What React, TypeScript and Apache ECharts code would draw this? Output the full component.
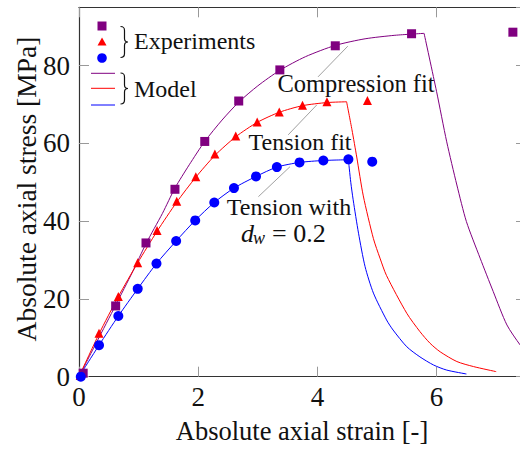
import React, { useEffect, useRef } from "react";
import * as echarts from "echarts";

// Experiments (markers)
const compressionExp: [number, number][] = [
  [0.07, 0.9], [0.615, 18.2], [1.124, 34.4], [1.61, 48.2], [2.11, 60.5], [2.68, 70.9],
  [3.37, 78.9], [4.3, 85.1], [5.58, 88.2], [7.28, 88.6],
];
const tensionExp: [number, number][] = [
  [0.02, 0.3], [0.336, 11.2], [0.66, 20.6], [0.985, 29.3], [1.31, 37.6], [1.64, 45.1],
  [1.96, 51.4], [2.28, 57.3], [2.63, 61.9], [2.99, 65.5], [3.36, 68.1], [3.75, 69.8],
  [4.16, 70.7], [4.84, 71.0],
];
const tensionDwExp: [number, number][] = [
  [0.03, 0], [0.336, 8.1], [0.66, 15.6], [0.985, 22.6], [1.3, 29.1], [1.63, 34.9],
  [1.95, 40.2], [2.27, 44.8], [2.6, 48.5], [2.97, 51.5], [3.32, 53.9], [3.7, 55.1],
  [4.1, 55.6], [4.52, 55.9], [4.92, 55.3],
];

// Model curves: loading branch and softening branch
const compressionRise: [number, number][] = [
  [0, 0], [0.3, 9], [0.615, 18.4], [0.9, 27], [1.124, 34.2], [1.4, 42], [1.61, 48.5],
  [1.85, 54.5], [2.11, 60.5], [2.4, 66], [2.68, 70.6], [3.0, 74.8], [3.37, 78.8],
  [3.8, 82.3], [4.3, 85.2], [4.8, 86.9], [5.3, 87.8], [5.79, 88.3],
];
const compressionFall: [number, number][] = [
  [5.79, 88.3], [6.0, 73.3], [6.17, 60.4], [6.34, 49.3], [6.5, 39.9], [6.73, 30.5],
  [6.95, 21.9], [7.18, 13.3], [7.4, 8.2], [7.5, 6.5],
];
const tensionRise: [number, number][] = [
  [0, 0], [0.336, 11], [0.66, 20.6], [0.985, 29.3], [1.31, 37.4], [1.64, 44.9],
  [1.96, 51.3], [2.28, 56.9], [2.63, 61.7], [2.99, 65.4], [3.36, 68.0], [3.75, 69.7],
  [4.16, 70.5], [4.49, 70.7],
];
const tensionFall: [number, number][] = [
  [4.49, 70.7], [4.58, 63.5], [4.66, 56.5], [4.77, 46.5], [4.94, 35.5], [5.05, 30.5],
  [5.16, 26], [5.5, 16.3], [5.72, 11.6], [5.89, 8.6], [6.06, 6.4], [6.34, 3.9],
  [6.62, 2.6], [7.0, 1.3],
];
const tensionDwRise: [number, number][] = [
  [0, 0], [0.336, 8.1], [0.66, 15.6], [0.985, 22.6], [1.3, 29.1], [1.63, 34.9],
  [1.95, 40.2], [2.27, 44.8], [2.6, 48.5], [2.97, 51.5], [3.32, 53.9], [3.7, 55.1],
  [4.1, 55.6], [4.52, 55.8],
];
const tensionDwFall: [number, number][] = [
  [4.52, 55.8], [4.56, 50], [4.6, 45.5], [4.69, 36.9], [4.8, 28.3], [4.94, 21.5],
  [5.16, 14.6], [5.27, 12.0], [5.5, 7.7], [5.72, 5.1], [5.95, 3.0], [6.17, 1.7],
  [6.5, 0.7],
];

// Annotation pins (data coordinates)
const pinCompression: [number, number][] = [[4.51, 85.0], [4.01, 77.1]];
const pinTension: [number, number][] = [[3.99, 69.9], [3.51, 62.2]];
const pinTensionDw: [number, number][] = [[3.54, 54.0], [3.01, 46.3]];

const xTitle = "Absolute axial strain [-]";
const yTitle = "Absolute axial stress [MPa]";

const PURPLE = "#800080";
const RED = "#ff0000";
const BLUE = "#0000ff";
const FONT = "Liberation Serif";

export default function App() {
  const ref = useRef<HTMLDivElement>(null);
  useEffect(() => {
    const braceD =
      "M0,0 C3,0 4,1 4,4 L4,12 C4,14.5 5,15.5 7.5,15.5 C5,15.5 4,16.5 4,19 L4,27 C4,30 3,31 0,31";
    echarts.graphic.registerShape("brace", echarts.graphic.extendPath(braceD, {}) as any);
    const chart = echarts.init(ref.current!, null, { renderer: "svg" });

    const axisLine = { show: true, onZero: false, lineStyle: { color: "#333", width: 1.2 } };
    const axisTick = { show: true, inside: true, length: 10, lineStyle: { color: "#999", width: 1 } };
    const label = { fontSize: 27, fontFamily: FONT, color: "#111", showMaxLabel: false };

    const lineSeries = (data: [number, number][], color: string, width = 1, smooth = 0.25) => ({
      type: "line",
      data,
      showSymbol: false,
      symbol: "none",
      smooth,
      lineStyle: { color, width },
      itemStyle: { color },
      z: 2,
      silent: true,
    });
    const scatter = (data: [number, number][], color: string, symbol: string, size: number) => ({
      type: "scatter",
      data,
      symbol,
      symbolSize: size,
      itemStyle: { color, opacity: 1 },
      z: 4,
      silent: true,
    });

    const txt = (text: string, size: number, extra: any = {}) => ({
      text,
      fontSize: size,
      fontFamily: FONT,
      fill: "#111",
      verticalAlign: "middle",
      ...extra,
    });

    chart.setOption({
      animation: false,
      backgroundColor: "#fff",
      grid: { left: 79, top: 7.3, width: 447, height: 369.4 },
      xAxis: [
        {
          type: "value", min: 0, max: 7.5, interval: 2, position: "bottom",
          axisLine, axisTick, axisLabel: { ...label, margin: 7 }, splitLine: { show: false },
        },
        {
          type: "value", min: 0, max: 7.5, interval: 2, position: "top",
          axisLine, axisTick, axisLabel: { show: false }, splitLine: { show: false },
        },
      ],
      yAxis: [
        {
          type: "value", min: 0, max: 95, interval: 20, position: "left",
          axisLine, axisTick, axisLabel: { ...label, margin: 9 }, splitLine: { show: false },
        },
        {
          type: "value", min: 0, max: 95, interval: 20, position: "right",
          axisLine, axisTick, axisLabel: { show: false }, splitLine: { show: false },
        },
      ],
      series: [
        lineSeries(compressionRise, PURPLE),
        lineSeries(compressionFall, PURPLE),
        lineSeries(tensionRise, RED),
        lineSeries(tensionFall, RED),
        lineSeries(tensionDwRise, BLUE),
        lineSeries(tensionDwFall, BLUE),
        lineSeries(pinCompression, "#888", 0.8, 0),
        lineSeries(pinTension, "#888", 0.8, 0),
        lineSeries(pinTensionDw, "#888", 0.8, 0),
        scatter(compressionExp, PURPLE, "rect", 9),
        scatter(tensionExp, RED, "triangle", 9),
        scatter(tensionDwExp, BLUE, "circle", 10),
      ],
      graphic: [
        // legend markers
        { type: "rect", shape: { x: 97.5, y: 21.5, width: 9, height: 9 }, style: { fill: PURPLE } },
        { type: "polygon", shape: { points: [[102, 37.5], [97.5, 45.5], [106.5, 45.5]] }, style: { fill: RED } },
        { type: "circle", shape: { cx: 102, cy: 58, r: 4.8 }, style: { fill: BLUE } },
        { type: "line", shape: { x1: 91, y1: 73.3, x2: 115, y2: 73.3 }, style: { stroke: PURPLE, lineWidth: 1 } },
        { type: "line", shape: { x1: 91, y1: 88.3, x2: 115, y2: 88.3 }, style: { stroke: RED, lineWidth: 1 } },
        { type: "line", shape: { x1: 91, y1: 105, x2: 115, y2: 105 }, style: { stroke: BLUE, lineWidth: 1 } },
        { type: "brace", x: 120.5, y: 26.5, style: { stroke: "#111", fill: "none", lineWidth: 1.2 } },
        { type: "brace", x: 120.5, y: 73, style: { stroke: "#111", fill: "none", lineWidth: 1.2 } },
        { type: "text", x: 134, y: 41, style: txt("Experiments", 24) },
        { type: "text", x: 134, y: 89, style: txt("Model", 24) },
        // annotations
        { type: "text", x: 356, y: 83, style: txt("Compression fit", 24.5, { align: "center" }) },
        { type: "text", x: 300, y: 142, style: txt("Tension fit", 24, { align: "center" }) },
        { type: "text", x: 289, y: 206.5, style: txt("Tension with", 24, { align: "center" }) },
        { type: "text", x: 241, y: 233, style: txt("d", 26, { fontStyle: "italic" }) },
        { type: "text", x: 253, y: 238, style: txt("w", 18, { fontStyle: "italic" }) },
        { type: "text", x: 272, y: 233, style: txt("= 0.2", 26) },
        // axis titles
        { type: "text", x: 302, y: 431, style: txt(xTitle, 26.5, { align: "center" }) },
        { type: "text", x: 26, y: 189, rotation: Math.PI / 2, style: txt(yTitle, 27.5, { align: "center" }) },
      ],
    });
    return () => chart.dispose();
  }, []);
  return <div ref={ref} style={{ position: "fixed", left: 0, top: 0, width: 530, height: 450 }} />;
}
